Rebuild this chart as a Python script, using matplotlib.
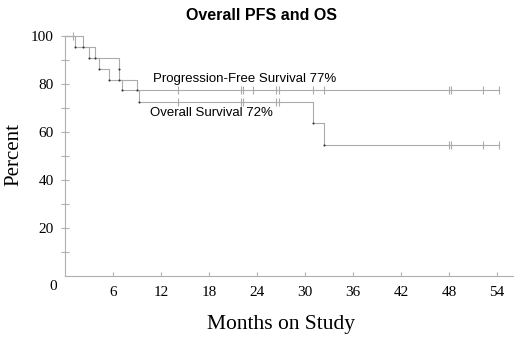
import numpy as np
import matplotlib
matplotlib.use("Agg")
import matplotlib.pyplot as plt

# ---- data ----
pfs_times = [0, 2.2, 3.8, 6.8, 6.8, 9.0]
pfs_surv = [100, 95.5, 90.9, 86.4, 81.8, 77.3]
pfs_censor = [1.0, 14.1, 22.0, 22.3, 23.5, 26.4, 26.8, 31.0, 32.4, 48.0, 48.2, 52.2, 54.2]

os_times = [0, 1.3, 3.0, 4.3, 5.5, 7.1, 9.2, 31.0, 32.4]
os_surv = [100, 95.5, 90.9, 86.4, 81.8, 77.3, 72.7, 63.6, 54.5]
os_censor = [14.1, 22.0, 22.3, 26.4, 26.8, 48.0, 48.2, 52.2, 54.2]

follow_up_end = 54.2
x_ticks = [6, 12, 18, 24, 30, 36, 42, 48, 54]
y_ticks = [20, 40, 60, 80, 100]
y_minor = [10, 30, 50, 70, 90]

title = "Overall PFS and OS"
pfs_label = "Progression-Free Survival 77%"
os_label = "Overall Survival 72%"

# ---- figure ----
fig = plt.figure(figsize=(5.2, 3.41), dpi=100)
W, H = 520, 341
ax = fig.add_axes([65 / W, 1 - 276 / H, (513 - 65) / W, (276 - 36) / H])

line_col = "#ababab"
axis_col = "#b0b0b0"


def level_at(times, surv, t):
    idx = np.searchsorted(np.asarray(times), t, side="right") - 1
    return np.asarray(surv)[idx]


for times, surv, cens in [(pfs_times, pfs_surv, pfs_censor), (os_times, os_surv, os_censor)]:
    xs = list(times) + [follow_up_end]
    ys = list(surv) + [surv[-1]]
    ax.step(xs, ys, where="post", color=line_col, lw=0.8, clip_on=False, zorder=2)
    ax.plot(times[1:], surv[1:], "o", color="#333333", ms=1.5, mew=0, clip_on=False, zorder=3)
    ax.plot(cens, level_at(times, surv, cens), "|", color=line_col, ms=6, mew=0.8,
            clip_on=False, zorder=2)

ax.set_xlim(0, 56)
ax.set_ylim(0, 100)

for s in ["top", "right"]:
    ax.spines[s].set_visible(False)
for s in ["left", "bottom"]:
    ax.spines[s].set_color(axis_col)
    ax.spines[s].set_linewidth(0.8)

serif = "Liberation Serif"
sans = "Liberation Sans"

ax.set_xticks(x_ticks)
ax.set_xticklabels([str(v) for v in x_ticks], fontfamily=serif, fontsize=11)
ax.set_yticks(y_ticks)
ax.set_yticklabels([str(v) for v in y_ticks], fontfamily=serif, fontsize=11)
ax.set_yticks(y_minor, minor=True)
ax.tick_params(axis="x", direction="in", length=3, width=0.8, color=axis_col, pad=7)
ax.tick_params(axis="y", which="both", direction="inout", length=6, width=0.8,
               color=axis_col, pad=5)

fig.text(53 / W, 1 - 286 / H, "0", ha="center", va="center", fontfamily=serif, fontsize=11)

ax.text(11.0, 82, pfs_label, fontfamily=sans, fontsize=9.5, va="center", ha="left")
ax.text(10.6, 67.8, os_label, fontfamily=sans, fontsize=9.5, va="center", ha="left")

fig.text(261 / W, 1 - 16 / H, title, ha="center", va="center", fontfamily=sans,
         fontsize=11.5, fontweight="bold")
fig.text(281 / W, 1 - 325 / H, "Months on Study", ha="center", va="center",
         fontfamily=serif, fontsize=15.5)
fig.text(14 / W, 1 - 155 / H, "Percent", ha="center", va="center", rotation=90,
         fontfamily=serif, fontsize=15)

fig.savefig("out.png", dpi=100)
